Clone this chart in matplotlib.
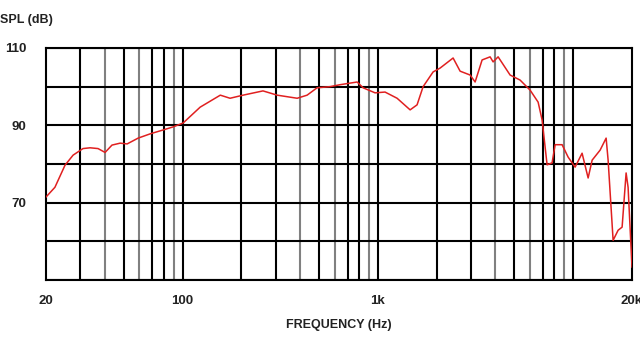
import numpy as np
import matplotlib
matplotlib.use("Agg")
import matplotlib.pyplot as plt

# response curve (Hz, dB SPL)
freq = [20, 22.2, 25, 27.5, 30.9, 33.6, 36.9, 40.1, 43.5, 47.9, 52, 59.2, 68.2,
        79.4, 89.4, 100.6, 123, 156, 175, 204, 258, 305, 386, 434, 488, 569,
        640, 783, 840, 967, 1088, 1254, 1462, 1587, 1704, 1917, 2082, 2427,
        2636, 2966, 3146, 3416, 3754, 3890, 4126, 4752, 5346, 6016, 6612,
        6930, 7350, 7796, 8080, 8772, 9418, 10226, 11104, 11924, 12498,
        13734, 14742, 15092, 16008, 16980, 17798, 18658, 19100, 20000]
spl = [71.5, 74, 79.7, 82.3, 84, 84.2, 84, 83, 84.9, 85.4, 85.2, 86.7, 87.8,
       88.8, 89.6, 90.6, 94.7, 97.8, 97, 97.8, 98.9, 97.8, 97, 97.8, 99.7, 100,
       100.5, 101.2, 99.7, 98.4, 98.6, 97, 94, 95.3, 100, 103.8, 104.8, 107.4,
       104, 103, 101.2, 106.9, 107.7, 106.4, 107.7, 103, 101.7, 99.1, 96,
       91.4, 79.8, 80.3, 85, 85, 81.8, 79.2, 82.8, 76.4, 81,
       83.6, 86.7, 81, 60.3, 62.9, 63.7, 77.7, 74, 53.4]

y_grid = [50, 60, 70, 80, 90, 100, 110]
y_ticks = [70, 90, 110]
x_ticks = [20, 100, 1000, 20000]
x_labels = ["20", "100", "1k", "20k"]

plt.rcParams['font.family'] = ['Liberation Sans', 'DejaVu Sans']

fig = plt.figure(figsize=(6.4, 3.4), dpi=100)
ax = fig.add_axes([0.072, 0.176, 0.9155, 0.683])

# grid lines, some rendered lighter like in the original print
for dec in [10, 100, 1000, 10000]:
    for m in range(1, 10):
        f = m * dec
        if f <= 20 or f >= 20000:
            continue
        c = '#808080' if m in (4, 6, 9) else 'black'
        ax.axvline(f, color=c, lw=1.5, zorder=1)
for y in y_grid:
    ax.axhline(y, color='black', lw=1.5, zorder=1)

ax.plot(freq, spl, color='#e02020', lw=1.1, zorder=3)

ax.set_xscale('log')
ax.set_xlim(20, 20000)
ax.set_ylim(50, 110)
ax.set_xticks(x_ticks)
ax.set_xticklabels(x_labels)
ax.xaxis.set_minor_locator(matplotlib.ticker.NullLocator())
ax.set_yticks(y_ticks)
ax.tick_params(length=0, labelsize=9.5, colors='#222222')
ax.tick_params(axis='x', pad=11)
ax.tick_params(axis='y', pad=14)
for lab in ax.get_xticklabels() + ax.get_yticklabels():
    lab.set_fontweight('bold')
for s in ax.spines.values():
    s.set_linewidth(1.5)
    s.set_color('black')

ax.set_xlabel('FREQUENCY (Hz)', fontsize=9, fontweight='bold', color='#222222', labelpad=8)
fig.text(0.0, 0.94, 'SPL (dB)', fontsize=9, fontweight='bold', color='#222222',
         ha='left', va='center')

fig.savefig('out.png', dpi=100)
